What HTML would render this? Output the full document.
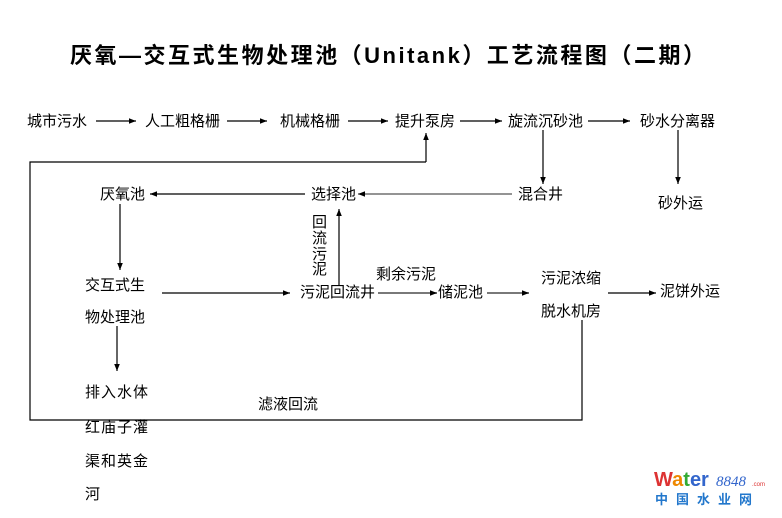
<!DOCTYPE html>
<html><head><meta charset="utf-8"><style>
html,body{margin:0;padding:0;background:#fff;width:782px;height:518px;overflow:hidden}
svg text{font-family:"Liberation Sans","Noto Sans CJK SC","WenQuanYi Zen Hei",sans-serif;font-size:15px;fill:#000}
</style></head><body>
<svg width="782" height="518" viewBox="0 0 782 518" xmlns="http://www.w3.org/2000/svg">
<defs><marker id="a" viewBox="0 0 10 10" refX="10" refY="5" markerWidth="7" markerHeight="7" orient="auto" markerUnits="userSpaceOnUse"><path d="M0,1 L10,5 L0,9 z" fill="#000"/></marker></defs>
<text x="70" y="63" textLength="635" lengthAdjust="spacing" style="font-size:22px;font-weight:bold">厌氧—交互式生物处理池（Unitank）工艺流程图（二期）</text>
<g stroke="#000" stroke-width="1.2" fill="none">
<line x1="96" y1="121" x2="136" y2="121" marker-end="url(#a)"/>
<line x1="227" y1="121" x2="267" y2="121" marker-end="url(#a)"/>
<line x1="348" y1="121" x2="388" y2="121" marker-end="url(#a)"/>
<line x1="460" y1="121" x2="502" y2="121" marker-end="url(#a)"/>
<line x1="588" y1="121" x2="630" y2="121" marker-end="url(#a)"/>
<polyline points="426,162 30,162 30,420 582,420 582,320"/>
<line x1="426" y1="162" x2="426" y2="133" marker-end="url(#a)"/>
<line x1="543" y1="130" x2="543" y2="184" marker-end="url(#a)"/>
<line x1="678" y1="130" x2="678" y2="184" marker-end="url(#a)"/>
<line x1="512" y1="194" x2="358" y2="194" stroke="#555" marker-end="url(#a)"/>
<line x1="305" y1="194" x2="150" y2="194" marker-end="url(#a)"/>
<line x1="120" y1="204" x2="120" y2="270" marker-end="url(#a)"/>
<line x1="162" y1="293" x2="290" y2="293" marker-end="url(#a)"/>
<line x1="339" y1="285" x2="339" y2="209" marker-end="url(#a)"/>
<line x1="378" y1="293" x2="437" y2="293" stroke="#666" stroke-width="1.8" marker-end="url(#a)"/>
<line x1="487" y1="293" x2="529" y2="293" stroke="#666" stroke-width="1.8" marker-end="url(#a)"/>
<line x1="608" y1="293" x2="656" y2="293" marker-end="url(#a)"/>
<line x1="117" y1="326" x2="117" y2="371" marker-end="url(#a)"/>
</g>
<text x="27" y="126">城市污水</text>
<text x="145" y="126">人工粗格栅</text>
<text x="280" y="126">机械格栅</text>
<text x="395" y="126">提升泵房</text>
<text x="508" y="126">旋流沉砂池</text>
<text x="640" y="126">砂水分离器</text>
<text x="518" y="199">混合井</text>
<text x="311" y="199">选择池</text>
<text x="100" y="199">厌氧池</text>
<text x="658" y="208">砂外运</text>
<text x="312" y="227">回</text>
<text x="312" y="243">流</text>
<text x="312" y="259">污</text>
<text x="312" y="274">泥</text>
<text x="85" y="290">交互式生</text>
<text x="85" y="322">物处理池</text>
<text x="300" y="297">污泥回流井</text>
<text x="376" y="279">剩余污泥</text>
<text x="438" y="297">储泥池</text>
<text x="541" y="283">污泥浓缩</text>
<text x="541" y="316">脱水机房</text>
<text x="660" y="296">泥饼外运</text>
<text x="85" y="397" letter-spacing="1">排入水体</text>
<text x="85" y="432" letter-spacing="1">红庙子灌</text>
<text x="85" y="466" letter-spacing="1">渠和英金</text>
<text x="85" y="499">河</text>
<text x="258" y="409">滤液回流</text>
<text x="654" y="486" style="font-size:20px;font-weight:bold;fill:#d33">W<tspan fill="#e80">a</tspan><tspan fill="#3a3">t</tspan><tspan fill="#36c">er</tspan></text>
<text x="716" y="486" style="font-size:15px;font-style:italic;font-family:'Liberation Serif',serif;fill:#36c">8848</text>
<text x="752" y="486" style="font-size:6px;fill:#d33">.com</text>
<text x="655" y="504" style="font-size:13px;font-weight:bold;fill:#27c;letter-spacing:8px">中国水业网</text>
</svg>
</body></html>
